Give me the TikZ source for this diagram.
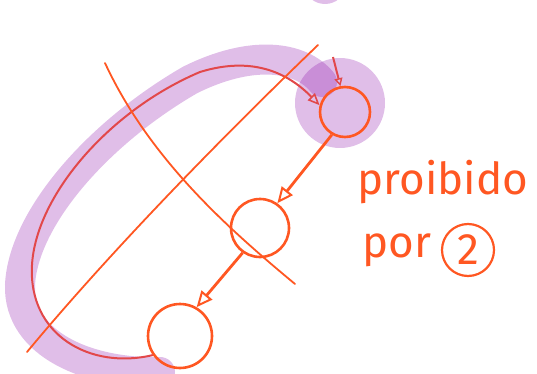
\documentclass[tikz,border=0pt]{standalone}
\usepackage{fontspec}
\setmainfont{Fira Sans}
\usetikzlibrary{arrows.meta}
\definecolor{pen}{RGB}{255,87,34}
\definecolor{redpen}{RGB}{226,72,74}
\definecolor{marker}{RGB}{136,5,167}
\tikzset{
  state/.style={circle, draw=pen, line width=2.6pt, inner sep=0pt},
  edgearrow/.style={pen, line width=2.8pt, -{Triangle[open, length=16pt, width=14pt, line width=2pt]}},
  strike/.style={pen, line width=1.8pt, line cap=round},
  highlight/.style={marker, opacity=0.26},
  hand/.style={pen, font=\fontsize{44}{46}\selectfont},
}
\begin{document}
\begin{tikzpicture}[x=1pt, y=-1pt]
\useasboundingbox (0,0) rectangle (537,374);

% marker strokes
\fill[highlight] (325,-14) ellipse (20 and 18);
\fill[highlight] (340,103) circle (45);
\draw[highlight, line width=30pt, line cap=round]
  (160,372) .. controls (90,374) and (18,345) .. (20,285)
  .. controls (23,220) and (95,135) .. (190,80)
  .. controls (250,50) and (300,55) .. (322,82);

% states
\node[state, minimum size=50pt] (A) at (345,112) {};
\node[state, minimum width=58pt, minimum height=56pt] (B) at (260,228) {};
\node[state, minimum width=64pt, minimum height=60pt] (C) at (180,336) {};
\coordinate (entry) at (333,57);

% transitions
\draw[edgearrow] (A.240) -- (B.55);
\draw[edgearrow] (B.235) -- (C.60);
\draw[redpen, line width=2pt, -{Triangle[open, length=12pt, width=10pt, line width=1.6pt]}]
  (C.215) .. controls (90,370) and (28,335) .. (32,265)
  .. controls (36,195) and (110,110) .. (200,72)
  .. controls (255,55) and (290,75) .. (A.165);
\draw[redpen, line width=2pt, -{Triangle[open, length=8pt, width=8pt, line width=1.4pt]}] (entry) -- (A.100);

% crossed out
\draw[strike] (105,63) .. controls (150,160) and (230,230) .. (295,284);
\draw[strike] (318,45) .. controls (240,120) and (120,240) .. (27,352);

% note
\node[hand] (note) at (443,182) {proibido};
\node[hand] (por) at (397,250) {por};
\node[hand, circle, draw=pen, line width=2.2pt, minimum size=52pt, inner sep=0pt] (two) at (468,250) {2};
\end{tikzpicture}
\end{document}
